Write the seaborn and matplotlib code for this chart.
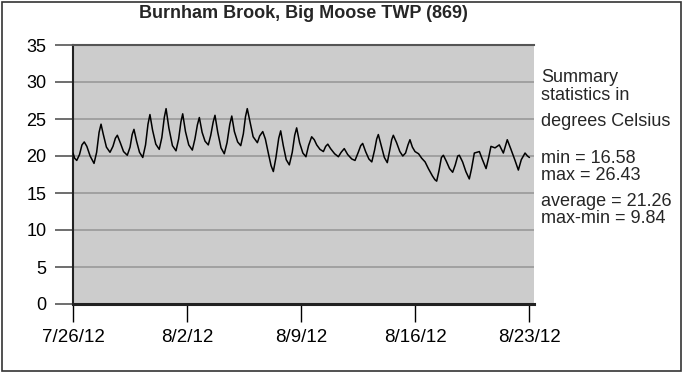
import matplotlib
matplotlib.use("Agg")
import matplotlib.pyplot as plt
from matplotlib.patches import Rectangle
import seaborn as sns
import pandas as pd

# Data: days since 2012-07-26 00:00 and temperature (deg C)
day_offsets = [
    0.00, 0.10, 0.23, 0.40, 0.55, 0.69, 0.85, 1.05, 1.29, 1.45,
    1.60, 1.72, 1.85, 2.05, 2.27, 2.45, 2.60, 2.72, 2.90, 3.10,
    3.33, 3.50, 3.63, 3.74, 3.90, 4.08, 4.28, 4.45, 4.60, 4.72,
    4.88, 5.08, 5.29, 5.45, 5.60, 5.71, 5.88, 6.10, 6.32, 6.48,
    6.62, 6.73, 6.90, 7.10, 7.32, 7.48, 7.63, 7.75, 7.92, 8.10,
    8.30, 8.45, 8.60, 8.71, 8.88, 9.08, 9.28, 9.45, 9.62, 9.74,
    9.90, 10.10, 10.29, 10.45, 10.58, 10.69, 10.86, 11.05, 11.31, 11.45,
    11.64, 11.80, 12.00, 12.15, 12.29, 12.45, 12.62, 12.74, 12.90, 13.08,
    13.27, 13.45, 13.60, 13.72, 13.90, 14.10, 14.29, 14.45, 14.64, 14.80,
    14.95, 15.15, 15.36, 15.50, 15.63, 15.80, 16.05, 16.28, 16.45, 16.64,
    16.85, 17.10, 17.30, 17.50, 17.65, 17.77, 17.95, 18.15, 18.33, 18.50,
    18.63, 18.73, 18.90, 19.10, 19.28, 19.45, 19.55, 19.65, 19.85, 20.05,
    20.23, 20.40, 20.55, 20.67, 20.82, 20.98, 21.20, 21.39, 21.60, 21.80,
    22.05, 22.20, 22.31, 22.45, 22.60, 22.72, 22.90, 23.10, 23.29, 23.45,
    23.60, 23.70, 23.90, 24.10, 24.31, 24.45, 24.62, 24.93, 25.10, 25.34,
    25.50, 25.64, 25.89, 26.15, 26.40, 26.55, 26.64, 26.85, 27.10, 27.32,
    27.50, 27.73, 27.88, 28.00]
temps = [
    20.4, 19.7, 19.4, 20.2, 21.5, 21.9, 21.3, 20.0, 19.0, 20.5,
    23.2, 24.3, 23.0, 21.2, 20.5, 21.3, 22.4, 22.8, 21.8, 20.6,
    20.1, 21.2, 22.9, 23.6, 22.0, 20.5, 19.8, 21.5, 24.3, 25.6,
    23.5, 21.6, 20.9, 22.5, 25.2, 26.4, 23.8, 21.4, 20.7, 22.3,
    24.6, 25.7, 23.3, 21.5, 20.8, 22.3, 24.2, 25.2, 23.2, 22.0,
    21.5, 22.8, 24.6, 25.5, 23.2, 21.1, 20.3, 21.8, 24.3, 25.4,
    23.3, 21.9, 21.4, 23.0, 25.3, 26.4, 24.6, 22.6, 21.8, 22.7,
    23.3, 22.3, 20.2, 18.7, 17.9, 19.8, 22.4, 23.4, 21.4, 19.5,
    18.8, 20.5, 22.8, 23.8, 21.8, 20.4, 19.9, 21.4, 22.6, 22.2,
    21.5, 20.9, 20.6, 21.3, 21.6, 21.0, 20.3, 19.9, 20.5, 21.0,
    20.2, 19.6, 19.4, 20.5, 21.4, 21.7, 20.6, 19.6, 19.2, 20.8,
    22.3, 22.9, 21.5, 19.8, 19.1, 21.0, 22.2, 22.8, 21.8, 20.6,
    20.0, 20.4, 21.5, 22.2, 21.2, 20.6, 20.3, 19.7, 19.2, 18.3,
    17.3, 16.8, 16.6, 18.0, 19.8, 20.1, 19.3, 18.3, 17.8, 18.8,
    20.0, 20.1, 19.2, 17.9, 16.9, 18.3, 20.4, 20.6, 19.6, 18.3,
    19.8, 21.3, 21.1, 21.5, 20.4, 21.5, 22.2, 21.0, 19.5, 18.1,
    19.5, 20.4, 20.0, 19.8]
tick_labels = ["7/26/12", "8/2/12", "8/9/12", "8/16/12", "8/23/12"]
y_ticks = [0, 5, 10, 15, 20, 25, 30, 35]
title = "Burnham Brook, Big Moose TWP (869)"
summary_lines = ["Summary", "statistics in", "degrees Celsius",
                 "min = 16.58", "max = 26.43", "average = 21.26", "max-min = 9.84"]
summary_y = [78, 95, 121, 158, 175, 202, 219]

start = pd.Timestamp("2012-07-26")
df = pd.DataFrame({"time": start + pd.to_timedelta(day_offsets, unit="D"),
                   "temp": temps})

sns.set_theme(style="white")
plt.rcParams["font.family"] = ["Liberation Sans", "DejaVu Sans"]

fig = plt.figure(figsize=(6.83, 3.73), dpi=100)
ax = fig.add_axes([73/683, 1-304/373, (534-73)/683, (304-45)/373])
ax.set_facecolor("#cccccc")

for yv in y_ticks[1:-1]:
    ax.axhline(yv, color="#999999", lw=1.2, zorder=1)

sns.lineplot(data=df, x="time", y="temp", ax=ax, color="black", lw=1.1,
             zorder=3, legend=False)

ax.set_ylim(0, 35)
ax.set_xlim(start, start + pd.Timedelta(days=28.28))
ax.set_yticks(y_ticks)
ax.set_yticklabels([str(v) for v in y_ticks])
xt = [start + pd.Timedelta(days=7*i) for i in range(5)]
ax.set_xticks(xt)
ax.set_xticklabels(tick_labels)
ax.set_xlabel("")
ax.set_ylabel("")

ax.tick_params(axis="y", direction="out", length=13, width=1.2, color="#555555",
               pad=6, labelsize=13, labelcolor="black", left=True)
ax.tick_params(axis="x", direction="out", length=13, width=1.0, color="black",
               pad=5, labelsize=13.5, labelcolor="black", bottom=True)

for s in ["left", "bottom", "top"]:
    ax.spines[s].set_visible(True)
ax.spines["right"].set_visible(False)
ax.spines["left"].set_color("#222222")
ax.spines["left"].set_linewidth(1.5)
ax.spines["bottom"].set_color("#222222")
ax.spines["bottom"].set_linewidth(2.2)
ax.spines["top"].set_color("#555555")
ax.spines["top"].set_linewidth(1.5)

fig.text(303/683, 1-13/373, title, ha="center", va="center",
         fontsize=13, fontweight="bold")

x0 = 541/683
for line, yy in zip(summary_lines, summary_y):
    fig.text(x0, 1-yy/373, line, ha="left", va="center", fontsize=13)

fig.patches.append(Rectangle((2/683, 2/373), 679/683, 369/373,
                             transform=fig.transFigure, fill=False,
                             edgecolor="#333333", lw=1.2))

fig.savefig("out.png", dpi=100, facecolor="white")
